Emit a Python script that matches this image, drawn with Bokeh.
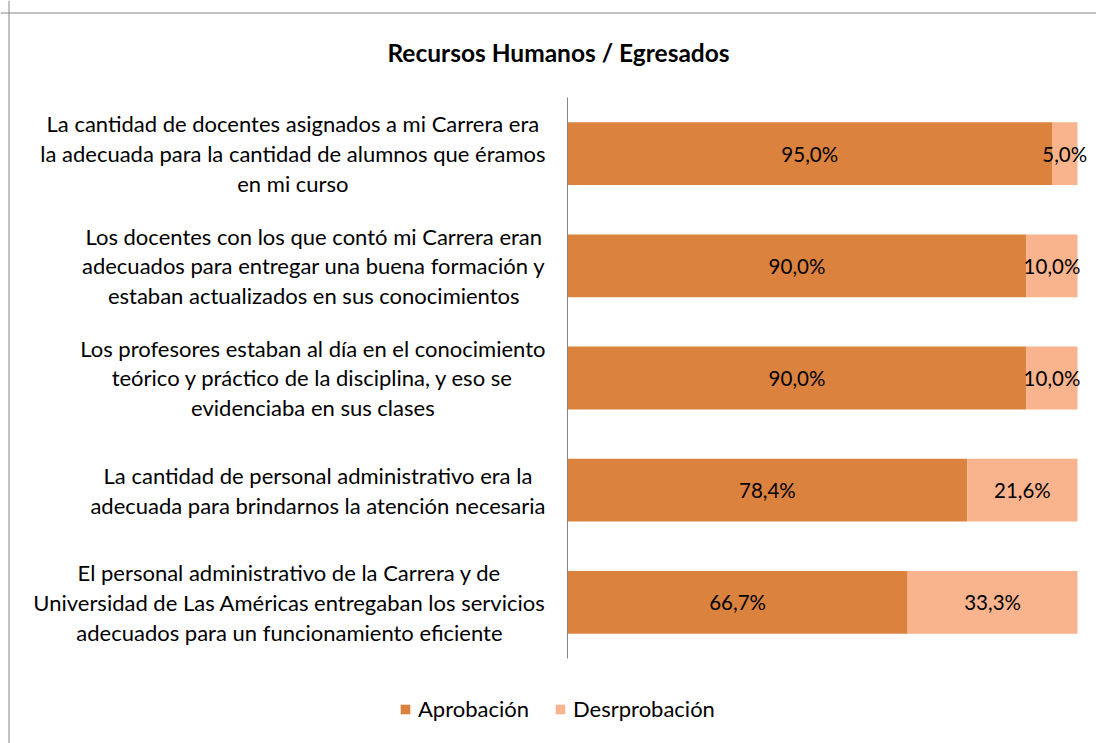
from bokeh.plotting import figure
from bokeh.models import Range1d, Span, Label, Legend, LegendItem, ColumnDataSource
from bokeh.core.properties import value
from bokeh.embed import file_html
from bokeh.resources import INLINE

title_text = "Recursos Humanos / Egresados"
categories = [
    "La cantidad de docentes asignados a mi Carrera era\nla adecuada para la cantidad de alumnos que éramos\nen mi curso",
    "Los docentes con los que contó mi Carrera eran\nadecuados para entregar una buena formación y\nestaban actualizados en sus conocimientos",
    "Los profesores estaban al día en el conocimiento\nteórico y práctico de la disciplina, y eso se\nevidenciaba en sus clases",
    "La cantidad de personal administrativo era la\nadecuada para brindarnos la atención necesaria",
    "El personal administrativo de la Carrera y de\nUniversidad de Las Américas entregaban los servicios\nadecuados para un funcionamiento eficiente",
]
aprobacion = [95.0, 90.0, 90.0, 78.4, 66.7]
desaprobacion = [5.0, 10.0, 10.0, 21.6, 33.3]
series_names = ["Aprobación", "Desrprobación"]
colors = ["#DC823F", "#F9B48E"]

FONT = "Lato"
W, H = 1096, 743
PAGE_L, PAGE_T = 0, 0
X0_PX, X_PER = 567.0, 5.1          # page px of 0 %, px per 1 %
Y0_PX, Y_PER = 153.1, 112.2        # page px of first category center, px per category

def xd(px):
    return (px - X0_PX) / X_PER

def yd(py):
    return (py - Y0_PX) / Y_PER

p = figure(width=W, height=H, output_backend="svg", toolbar_location=None,
           x_range=Range1d(xd(PAGE_L), xd(PAGE_L + W)),
           y_range=Range1d(yd(PAGE_T + H), yd(PAGE_T)),
           x_axis_type=None, y_axis_type=None,
           min_border=0, outline_line_color=None)
p.grid.visible = False
p.background_fill_color = "white"
p.border_fill_color = "white"

n = len(categories)
idx = list(range(n))
src = ColumnDataSource(dict(
    y=idx, cat=categories,
    a=aprobacion, d=desaprobacion,
    a_end=aprobacion,
    d_end=[a + d for a, d in zip(aprobacion, desaprobacion)],
    a_mid=[a / 2 for a in aprobacion],
    d_mid=[a + d / 2 for a, d in zip(aprobacion, desaprobacion)],
    a_lab=[f"{a:.1f}%".replace(".", ",") for a in aprobacion],
    d_lab=[f"{d:.1f}%".replace(".", ",") for d in desaprobacion],
))

r1 = p.hbar(y="y", left=0, right="a_end", height=0.56, source=src,
            fill_color=colors[0], line_color=None)
r2 = p.hbar(y="y", left="a_end", right="d_end", height=0.56, source=src,
            fill_color=colors[1], line_color=None)

# value labels
for col, xcol in (("a_lab", "a_mid"), ("d_lab", "d_mid")):
    p.text(x=xcol, y="y", text=col, source=src, text_align="center",
           text_baseline="middle", text_font=value(FONT),
           text_font_size="20.5px", text_color="#000000")

# category labels
p.text(x=0, y="y", text="cat", source=src, x_offset=-22, y_offset=0,
       anchor="center_right", text_align="center", text_baseline="middle",
       text_font=value(FONT), text_font_size="22px", text_color="#000000",
       text_line_height=1.1)

# vertical category axis line
p.segment(x0=[0], y0=[-0.5], x1=[0], y1=[n - 0.5], line_color="#868686", line_width=1)

# chart border (left/top visible in reference)
p.add_layout(Span(location=xd(8.5), dimension="height", line_color="#868686", line_width=1))
p.add_layout(Span(location=yd(12.5), dimension="width", line_color="#868686", line_width=1))

# title
p.add_layout(Label(x=xd(558), y=yd(52), text=title_text, text_align="center",
                   text_baseline="middle", text_font=FONT,
                   text_font_style="bold", text_font_size="24.5px", text_color="#000000"))

legend = Legend(items=[LegendItem(label=series_names[0], renderers=[r1]),
                       LegendItem(label=series_names[1], renderers=[r2])],
                orientation="horizontal", location=(399, 21),
                glyph_width=12, glyph_height=12, label_standoff=7, spacing=25,
                label_text_font=FONT, label_text_font_size="22px",
                label_text_color="#000000", padding=0, margin=0,
                border_line_color=None, background_fill_alpha=0)
p.add_layout(legend)

open("out.html", "w").write(file_html(p, INLINE))
